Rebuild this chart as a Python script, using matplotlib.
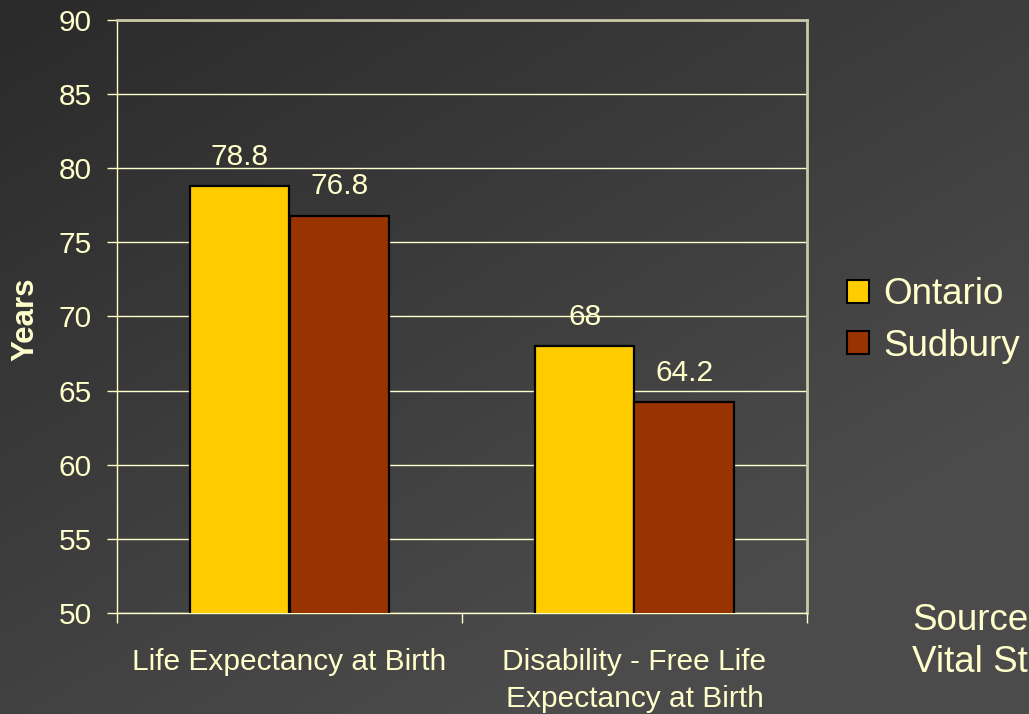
import numpy as np
import matplotlib
matplotlib.use("Agg")
import matplotlib.pyplot as plt
from matplotlib.patches import Patch

categories = ["Life Expectancy at Birth", "Disability - Free Life\nExpectancy at Birth"]
series_names = ["Ontario", "Sudbury"]
ontario = [78.8, 68]
sudbury = [76.8, 64.2]
value_labels_ontario = ["78.8", "68"]
value_labels_sudbury = ["76.8", "64.2"]
yticks = [50, 55, 60, 65, 70, 75, 80, 85, 90]

TEXT = "#FFFFCC"
GRID = "#FFFFCC"
C_ONT = "#FFCC00"
C_SUD = "#993300"
FONT = "Liberation Sans"

plt.rcParams["font.family"] = [FONT, "DejaVu Sans"]

W, H = 1029, 714
fig = plt.figure(figsize=(W / 100, H / 100), dpi=100)

# background gradient
bg = fig.add_axes([0, 0, 1, 1], zorder=-10)
yy, xx = np.mgrid[0:1:200j, 0:1:300j]
g = 0.55 * yy + 0.45 * xx
g = np.clip(g * 1.3, 0, 1)
c0 = np.array([0x2a, 0x2a, 0x2a]) / 255
c1 = np.array([0x4b, 0x4b, 0x4b]) / 255
img = c0[None, None, :] * (1 - g[..., None]) + c1[None, None, :] * g[..., None]
bg.imshow(img, aspect="auto", extent=[0, 1, 1, 0], interpolation="bilinear")
bg.set_axis_off()

ax = fig.add_axes([117 / W, 1 - 613 / H, (807 - 117) / W, (613 - 20) / H])
ax.patch.set_alpha(0)

x = np.arange(len(categories)) + 0.5
bw = 0.288
b1 = ax.bar(x - bw / 2, ontario, bw, color=C_ONT, edgecolor="black", linewidth=1.6, zorder=3)
b2 = ax.bar(x + bw / 2, sudbury, bw, color=C_SUD, edgecolor="black", linewidth=1.6, zorder=3)

fs = 21.5
for rect, lab in zip(b1, value_labels_ontario):
    ax.annotate(lab, (rect.get_x() + rect.get_width() / 2, rect.get_height()),
                xytext=(0, 11), textcoords="offset points", ha="center", va="bottom",
                color=TEXT, fontsize=fs, zorder=4)
for rect, lab in zip(b2, value_labels_sudbury):
    ax.annotate(lab, (rect.get_x() + rect.get_width() / 2, rect.get_height()),
                xytext=(0, 11), textcoords="offset points", ha="center", va="bottom",
                color=TEXT, fontsize=fs, zorder=4)

ax.set_xlim(0, len(categories))
ax.set_ylim(50, 90)
ax.set_yticks(yticks)
ax.set_yticklabels([str(t) for t in yticks])
ax.yaxis.grid(True, color=GRID, linewidth=1.0, zorder=1)
ax.set_axisbelow(True)

ax.set_xticks(np.arange(len(categories) + 1))
ax.set_xticklabels([])
ax.set_xticks(x, minor=True)
ax.set_xticklabels(categories, minor=True, linespacing=1.42)
ax.tick_params(axis="x", which="minor", length=0, pad=25, labelsize=fs, labelcolor=TEXT)
ax.tick_params(axis="x", which="major", length=7, width=1, color="#FFFFCC", direction="out")
ax.tick_params(axis="y", length=7, width=1, color="#FFFFCC", pad=11, labelsize=fs, labelcolor=TEXT)

for s in ["left", "bottom"]:
    ax.spines[s].set_color("#FFFFCC")
    ax.spines[s].set_linewidth(1.0)
for s in ["top", "right"]:
    ax.spines[s].set_color("#C8C8A8")
    ax.spines[s].set_linewidth(2.0)

fig.text(25 / W, 1 - 319 / H, "Years", rotation=90, ha="center", va="center",
         color=TEXT, fontsize=22.5, fontweight="bold")

handles = [Patch(facecolor=C_ONT, edgecolor="black", linewidth=1.5),
           Patch(facecolor=C_SUD, edgecolor="black", linewidth=1.5)]
leg = ax.legend(handles, series_names, loc="center left",
                bbox_to_anchor=(847 / W, 1 - 320.5 / H), bbox_transform=fig.transFigure,
                frameon=False, fontsize=26.5, borderpad=0, borderaxespad=0,
                handlelength=0.6, handleheight=0.6, handletextpad=0.38, labelspacing=0.45)
for t in leg.get_texts():
    t.set_color(TEXT)

fig.text(912 / W, 1 - 620 / H, "Source:", ha="left", va="center", color=TEXT, fontsize=26.5)
fig.text(912 / W, 1 - 662 / H, "Vital Statistics", ha="left", va="center", color=TEXT, fontsize=26.5)

fig.savefig("out.png", dpi=100)
